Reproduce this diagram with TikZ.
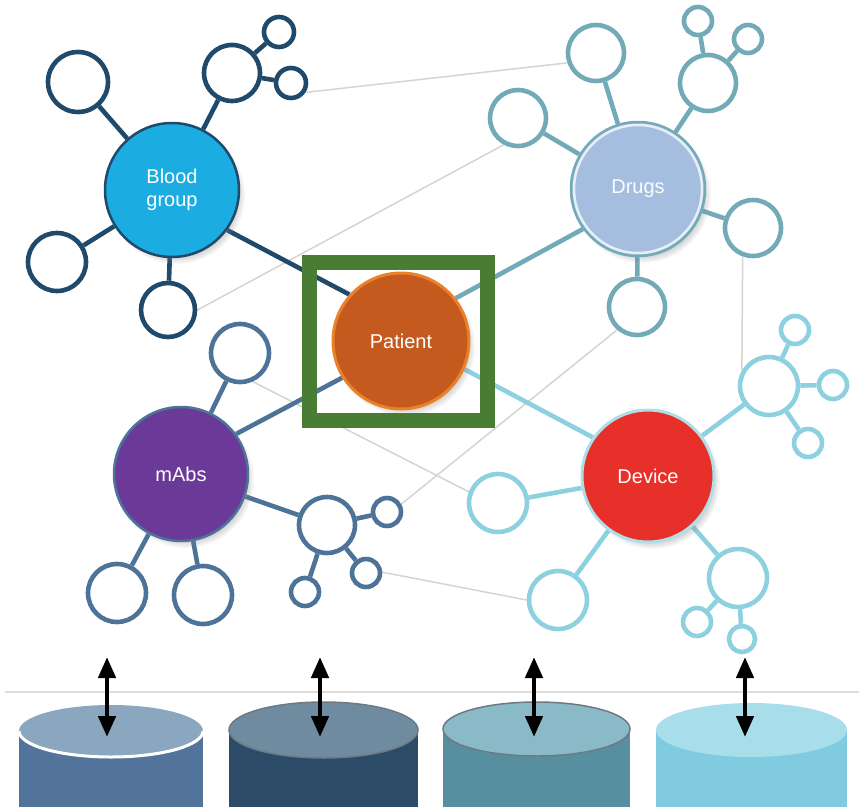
\documentclass[tikz,border=0pt]{standalone}
\usepackage{fontspec}
\setmainfont{Liberation Sans}
\usetikzlibrary{arrows.meta,shadows,backgrounds}

\definecolor{cNavy}{HTML}{1F4A6B}
\definecolor{cTeal}{HTML}{72AAB8}
\definecolor{cSteel}{HTML}{4D7398}
\definecolor{cCyan}{HTML}{8DD0E0}
\definecolor{cLink}{HTML}{D4D4D4}
\definecolor{cFrame}{HTML}{4A7D34}
\definecolor{cBlood}{HTML}{1BADE2}
\definecolor{cDrugs}{HTML}{A5BEDF}
\definecolor{cPatient}{HTML}{C55A1E}
\definecolor{cPatRim}{HTML}{E9812B}
\definecolor{cMabs}{HTML}{6B3A98}
\definecolor{cDevice}{HTML}{E8302A}
% data store colours: body / top
\definecolor{sOneBody}{HTML}{53749A}
\definecolor{sOneTop}{HTML}{8BA7C0}
\definecolor{sTwoBody}{HTML}{2B4B69}
\definecolor{sTwoTop}{HTML}{6F8B9F}
\definecolor{sThreeBody}{HTML}{578FA0}
\definecolor{sThreeTop}{HTML}{8AB9C7}
\definecolor{sFourBody}{HTML}{80CBE0}
\definecolor{sFourTop}{HTML}{A8DDEA}
\definecolor{sRim}{HTML}{6D7A84}

\tikzset{
  sat/.style={circle, draw, fill=white, line width=4.6pt, inner sep=0pt, minimum size=#1},
  hub/.style={circle, inner sep=0pt, minimum size=134pt, text=white, align=center,
    font=\fontsize{20}{23}\selectfont,
    circular drop shadow={shadow xshift=4pt, shadow yshift=-5pt, shadow scale=1.03, opacity=0.45}},
  spoke/.style={line width=4.6pt},
  faint/.style={draw=cLink, line width=1.5pt},
  dbl/.style={line width=4.5pt, {Triangle[width=17pt,length=21pt]}-{Triangle[width=17pt,length=21pt]}},
}

\begin{document}
\begin{tikzpicture}[x=1pt, y=-1pt]
\useasboundingbox (0,0) rectangle (859,806);

% ---- hubs ----
\node[hub, fill=cBlood, draw=cNavy, line width=2.5pt] (BG) at (172,190) {Blood\\group};
\node[hub, fill=cDrugs, draw=cTeal, line width=2.5pt, text=white!95!cDrugs] (DR) at (638,189) {};
\draw[white, opacity=0.75, line width=2.5pt] (DR.center) circle[radius=64pt];
\node[text=white!95!cDrugs, font=\fontsize{20}{23}\selectfont] (DRtext) at (DR.center) {Drugs};
\node[hub, fill=cPatient, draw=cPatRim, line width=3pt, minimum size=136pt] (PA) at (401,341) {Patient};
\node[hub, fill=cMabs, draw=cSteel, line width=2.5pt] (MA) at (181,474) {mAbs};
\node[hub, fill=cDevice, draw=cCyan!70!white, line width=3pt, minimum size=132pt] (DV) at (648,476) {Device};

% ---- blood group satellites ----
\begin{scope}[every node/.append style={draw=cNavy}]
\node[sat=60pt] (b1) at (78,82) {};
\node[sat=56pt] (b2) at (232,73) {};
\node[sat=30pt] (b2a) at (279,32) {};
\node[sat=30pt] (b2b) at (291,83) {};
\node[sat=58pt] (b3) at (57,262) {};
\node[sat=54pt] (b4) at (168,310) {};
\end{scope}

% ---- drugs satellites ----
\begin{scope}[every node/.append style={draw=cTeal}]
\node[sat=56pt] (d1) at (596,53) {};
\node[sat=56pt] (d2) at (518,118) {};
\node[sat=56pt] (d3) at (708,83) {};
\node[sat=28pt] (d3a) at (698,21) {};
\node[sat=28pt] (d3b) at (748,39) {};
\node[sat=56pt] (d4) at (753,228) {};
\node[sat=56pt] (d5) at (637,307) {};
\end{scope}

% ---- mAbs satellites ----
\begin{scope}[every node/.append style={draw=cSteel}]
\node[sat=58pt] (m1) at (240,353) {};
\node[sat=58pt] (m2) at (117,593) {};
\node[sat=58pt] (m3) at (203,595) {};
\node[sat=56pt] (m4) at (327,525) {};
\node[sat=28pt] (m4a) at (387,512) {};
\node[sat=28pt] (m4b) at (305,592) {};
\node[sat=28pt] (m4c) at (366,573) {};
\end{scope}

% ---- device satellites ----
\begin{scope}[every node/.append style={draw=cCyan}]
\node[sat=58pt] (v1) at (498,503) {};
\node[sat=58pt] (v2) at (558,600) {};
\node[sat=58pt] (v3) at (769,386) {};
\node[sat=28pt] (v3a) at (795,330) {};
\node[sat=28pt] (v3b) at (833,385) {};
\node[sat=28pt] (v3c) at (808,443) {};
\node[sat=58pt] (v4) at (738,578) {};
\node[sat=28pt] (v4a) at (697,622) {};
\node[sat=26pt] (v4b) at (742,639) {};
\end{scope}

% ---- frame around the patient ----
\draw[cFrame, line width=15pt] (309,262) rectangle (487,420);

\begin{scope}[on background layer]
  % cross links between clusters
  \draw[faint] (b2b.-33) -- (d1.-161);
  \draw[faint] (b4.0) -- (d2.-118);
  \draw[faint] (m1.-66) -- (v1.159);
  \draw[faint] (m4a.29) -- (d5.-131);
  \draw[faint] (m4c.3) -- (v2.180);
  \draw[faint] (d4.-110) -- (v3.150);

  % spokes
  \draw[spoke, cNavy] (BG) -- (b1) (BG) -- (b2) (b2) -- (b2a) (b2) -- (b2b)
        (BG) -- (b3) (BG) -- (b4) (BG.-36) -- (PA.138);
  \draw[spoke, cTeal] (DR) -- (d1) (DR) -- (d2) (DR) -- (d3) (d3) -- (d3a) (d3) -- (d3b)
        (DR) -- (d4) (DR) -- (d5) (DR.-144) -- (PA.38);
  \draw[spoke, cSteel] (MA) -- (m1) (MA) -- (m2) (MA) -- (m3) (MA) -- (m4)
        (m4) -- (m4a) (m4) -- (m4b) (m4) -- (m4c) (MA.36) -- (PA.-148);
  \draw[spoke, cCyan] (DV) -- (v1) (DV) -- (v2) (DV) -- (v3) (v3) -- (v3a) (v3) -- (v3b)
        (v3) -- (v3c) (DV) -- (v4) (v4) -- (v4a) (v4) -- (v4b) (DV.145) -- (PA.-24);
\end{scope}

% ---- data stores ----
\coordinate (shelfL) at (5,692);
\coordinate (shelfR) at (859,692);
\draw[cLink!80!white, line width=2pt] (shelfL) -- (shelfR);

% store 1
\fill[sOneBody] (19,731) rectangle (203,810);
\fill[sOneTop] (111,731) ellipse[x radius=92pt, y radius=26pt];
\draw[white, line width=3pt] (19,731) arc[start angle=180, end angle=360, x radius=92pt, y radius=26pt];
% store 2
\fill[sTwoBody] (229,730) rectangle (418,810);
\fill[sTwoTop] (323.5,730) ellipse[x radius=94.5pt, y radius=28pt];
\draw[sRim, line width=1.5pt] (323.5,730) ellipse[x radius=94.5pt, y radius=28pt];
% store 3
\fill[sThreeBody] (443,729) rectangle (630,810);
\fill[sThreeTop] (536.5,729) ellipse[x radius=93.5pt, y radius=27pt];
\draw[sRim, line width=1.5pt] (536.5,729) ellipse[x radius=93.5pt, y radius=27pt];
% store 4
\fill[sFourBody] (656,730) rectangle (847,810);
\fill[sFourTop] (751.5,730) ellipse[x radius=95.5pt, y radius=27pt];

% ---- exchange arrows ----
\foreach \i/\x in {1/107, 2/320, 3/534, 4/745} {
  \coordinate (up\i) at (\x,657);
  \coordinate (dn\i) at (\x,737);
  \draw[dbl] (up\i) -- (dn\i);
}
\end{tikzpicture}
\end{document}
